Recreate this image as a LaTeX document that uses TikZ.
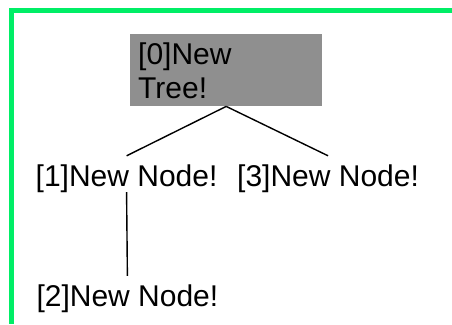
\documentclass[tikz,border=0pt]{standalone}
\usepackage{fontspec}
\setmainfont{Liberation Sans}
\definecolor{framegreen}{RGB}{0,238,102}
\definecolor{rootgray}{RGB}{143,143,143}
\begin{document}
\begin{tikzpicture}[x=1pt,y=-1pt,
  every node/.style={font=\fontsize{30}{33.5}\selectfont},
  treenode/.style={inner sep=4pt,text height=26pt,text depth=2pt,anchor=base west},
  rootnode/.style={fill=rootgray,anchor=north west,text width=176pt,align=left,
    inner xsep=8pt,inner ysep=0pt,text height=30.3pt,text depth=41.7pt},
  edge/.style={line width=1.4pt,black},
  frame/.style={framegreen,line width=5pt}]
  \useasboundingbox (0,0) rectangle (452,324);
  % green frame along the top and left
  \draw[frame] (9,10.5) -- (452,10.5);
  \draw[frame] (11.5,8) -- (11.5,324);
  % tree nodes
  \node[rootnode] (n0) at (130,34) {[0]New\\Tree!};
  \node[treenode] (n1) at (31.5,186) {[1]New Node!};
  \node[treenode] (n3) at (233,186) {[3]New Node!};
  \node[treenode] (n2) at (32.3,306) {[2]New Node!};
  % connectors
  \draw[edge] (n0.south) -- (n1.north);
  \draw[edge] (n0.south) -- (n3.north);
  \draw[edge] (n1.south) -- (n2.north);
\end{tikzpicture}
\end{document}
